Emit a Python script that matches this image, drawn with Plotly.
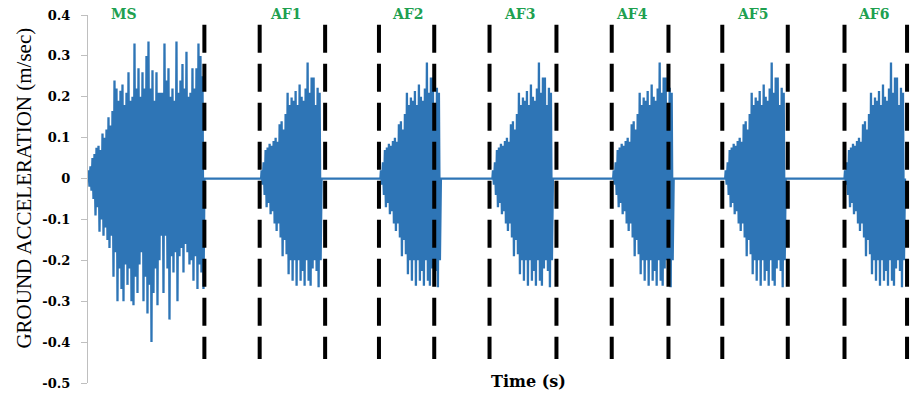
import plotly.graph_objects as go

# ---------------- data ----------------
dt = 0.3436  # sample interval, s

# main shock: alternating positive / negative peaks
ms_pos = [0.02, 0.03, 0.05, 0.06, 0.075, 0.08, 0.07, 0.11, 0.10, 0.12,
          0.15, 0.13, 0.165, 0.24, 0.22, 0.19, 0.215, 0.23, 0.18, 0.21,
          0.26, 0.19, 0.20, 0.33, 0.22, 0.27, 0.20, 0.26, 0.22, 0.30,
          0.335, 0.22, 0.265, 0.19, 0.26, 0.21, 0.21, 0.21, 0.33, 0.24,
          0.27, 0.20, 0.22, 0.19, 0.335, 0.21, 0.24, 0.28, 0.22, 0.31,
          0.20, 0.21, 0.27, 0.22, 0.27, 0.33, 0.30, 0.25]
ms_neg = [-0.02, -0.03, -0.05, -0.09, -0.07, -0.13, -0.10, -0.14, -0.12, -0.15,
          -0.17, -0.14, -0.24, -0.18, -0.30, -0.22, -0.27, -0.30, -0.21, -0.26,
          -0.22, -0.30, -0.31, -0.24, -0.28, -0.21, -0.18, -0.30, -0.24, -0.33,
          -0.26, -0.40, -0.28, -0.22, -0.31, -0.20, -0.14, -0.28, -0.14, -0.22,
          -0.345, -0.19, -0.23, -0.18, -0.30, -0.19, -0.17, -0.23, -0.16, -0.18,
          -0.21, -0.20, -0.25, -0.19, -0.27, -0.21, -0.23, -0.27]

# aftershock record (same shape for AF1..AF6)
af_pos = [0.02, 0.04, 0.07, 0.076, 0.085, 0.08, 0.092, 0.10, 0.09, 0.133,
          0.14, 0.12, 0.158, 0.21, 0.18, 0.198, 0.19, 0.214, 0.18, 0.23,
          0.20, 0.19, 0.22, 0.284, 0.21, 0.247, 0.247, 0.18, 0.222, 0.21]
af_neg = [-0.015, -0.04, -0.07, -0.06, -0.087, -0.08, -0.11, -0.128, -0.11, -0.144,
          -0.19, -0.15, -0.185, -0.234, -0.20, -0.25, -0.20, -0.262, -0.20, -0.25,
          -0.226, -0.262, -0.20, -0.25, -0.262, -0.22, -0.20, -0.226, -0.266, -0.20]

event_names = ["MS", "AF1", "AF2", "AF3", "AF4", "AF5", "AF6"]
event_starts = [0.0, 59.5, 100.5, 139.0, 180.5, 219.0, 260.0]
label_times = [12.5, 68.0, 110.0, 148.5, 187.0, 228.7, 270.0]
boundary_times = [40.0, 59.0, 81.5, 100.0, 119.0, 138.0, 161.0,
                  180.0, 199.5, 218.0, 240.5, 260.0, 281.5]

y_tick_vals = [0.4, 0.3, 0.2, 0.1, 0.0, -0.1, -0.2, -0.3, -0.4, -0.5]
y_tick_text = ["0.4", "0.3", "0.2", "0.1", "0", "-0.1", "-0.2", "-0.3", "-0.4", "-0.5"]

# ---------------- build the time history ----------------
t_all, a_all = [], []
for name, start in zip(event_names, event_starts):
    pos, neg = (ms_pos, ms_neg) if name == "MS" else (af_pos, af_neg)
    rec = []
    for p, n in zip(pos, neg):
        rec.extend([p, n])
    t_all.append(start)
    a_all.append(0.0)
    for k, v in enumerate(rec):
        t_all.append(start + (k + 0.5) * dt)
        a_all.append(v)
    t_all.append(start + (len(rec) + 0.5) * dt)
    a_all.append(0.0)

BLUE = "#2e75b6"
GREEN = "#20a050"

X_MAX = 283.2

fig = go.Figure()
fig.add_trace(go.Scatter(x=t_all, y=a_all, mode="lines",
                         line=dict(color=BLUE, width=2.3),
                         hoverinfo="skip", showlegend=False))

for bt in boundary_times:
    fig.add_shape(type="line", xref="x", yref="y",
                  x0=bt, x1=bt, y0=0.376, y1=-0.441,
                  line=dict(color="black", width=4, dash="28px,11px"))

for name, lt in zip(event_names, label_times):
    fig.add_annotation(x=lt / X_MAX, y=1.003, xref="paper", yref="paper", text=name,
                       showarrow=False, xanchor="center", yanchor="middle",
                       font=dict(family="DejaVu Serif", size=14, color=GREEN,
                                 weight="bold"))

fig.add_annotation(xref="paper", yref="paper", x=-0.0777, y=0.531,
                   text="GROUND ACCELERATION (m/sec)", textangle=-90,
                   showarrow=False, xanchor="center", yanchor="middle",
                   font=dict(family="Liberation Serif", size=21, color="black"))
fig.add_annotation(xref="paper", yref="paper", x=0.535, y=0.0054,
                   text="Time (s)", showarrow=False,
                   xanchor="center", yanchor="middle",
                   font=dict(family="DejaVu Serif", size=16, color="black",
                             weight="bold"))

fig.update_layout(
    width=914, height=396,
    margin=dict(l=88, r=2, t=15, b=13),
    paper_bgcolor="white", plot_bgcolor="white",
    xaxis=dict(visible=False, range=[0, X_MAX]),
    yaxis=dict(range=[-0.5, 0.4], tickvals=y_tick_vals, ticktext=y_tick_text,
               showline=True, linecolor="#bfbfbf", linewidth=1.3,
               ticks="outside", ticklen=6, tickcolor="#bfbfbf", tickwidth=1.3,
               showgrid=False, zeroline=False, ticklabelstandoff=8,
               tickfont=dict(family="DejaVu Serif", size=13, color="black",
                             weight="bold")),
)

fig.write_html("out.html",
               config={"displayModeBar": False},
               post_script="document.body.style.margin='0';document.body.style.overflow='hidden';")
